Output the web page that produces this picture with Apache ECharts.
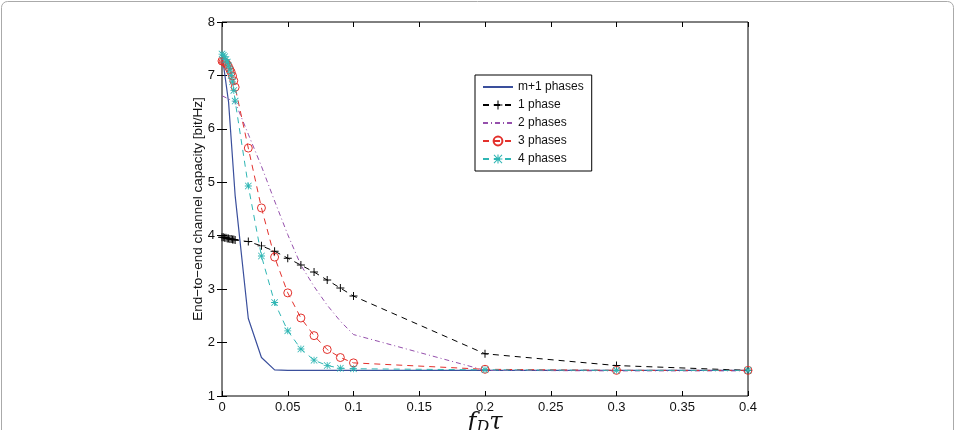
<!DOCTYPE html>
<html>
<head>
<meta charset="utf-8">
<script src="https://cdn.jsdelivr.net/npm/echarts@6/dist/echarts.min.js"></script>
<style>
  html, body { margin: 0; padding: 0; background: #fff; }
  #chart { width: 958px; height: 430px; }
</style>
</head>
<body>
<div id="chart"></div>
<script>
// x values (f_D * tau)
const xFine = [0, 0.001, 0.002, 0.003, 0.004, 0.005, 0.006, 0.007, 0.008, 0.009, 0.01,
  0.02, 0.03, 0.04, 0.05, 0.06, 0.07, 0.08, 0.09, 0.1, 0.2, 0.3, 0.4]
const xMulti = [0, 0.005, 0.01, 0.02, 0.03, 0.04, 0.05, 0.1, 0.2, 0.3, 0.4]
const xTwo = [0, 0.01, 0.02, 0.03, 0.04, 0.05, 0.06, 0.07, 0.08, 0.09, 0.1, 0.2, 0.3, 0.4]

// capacity values [bit/Hz]
const multiPhase = [7.4, 6.5, 4.75, 2.45, 1.72, 1.49, 1.48, 1.48, 1.48, 1.48, 1.48]
const onePhase = [3.97, 3.97, 3.96, 3.96, 3.95, 3.95, 3.94, 3.94, 3.93, 3.93, 3.92,
  3.89, 3.81, 3.71, 3.58, 3.45, 3.32, 3.17, 3.02, 2.87, 1.79, 1.57, 1.48]
const twoPhase = [6.62, 6.5, 5.9, 5.3, 4.65, 4.02, 3.45, 3.05, 2.7, 2.4, 2.15, 1.48, 1.47, 1.47]
const threePhase = [7.27, 7.26, 7.25, 7.23, 7.2, 7.16, 7.11, 7.06, 6.99, 6.9, 6.78,
  5.64, 4.52, 3.6, 2.93, 2.46, 2.13, 1.87, 1.72, 1.62, 1.5, 1.48, 1.48]
const fourPhase = [7.4, 7.38, 7.35, 7.3, 7.25, 7.18, 7.1, 7.0, 6.88, 6.72, 6.52,
  4.93, 3.62, 2.75, 2.22, 1.88, 1.67, 1.57, 1.52, 1.51, 1.49, 1.48, 1.48]

const seriesNames = ['m+1 phases', '1 phase', '2 phases', '3 phases', '4 phases']
const xTicks = { min: 0, max: 0.4, interval: 0.05 }
const yTicks = { min: 1, max: 8, interval: 1 }

function pairs(xs, ys) {
  return ys.map((y, i) => [xs[i], y])
}

const plusPath = 'path://M4.4,0H5.6V10H4.4ZM0,4.4H10V5.6H0Z'
const starPath = 'path://M4.4,0H5.6V10H4.4ZM0,4.4H10V5.6H0ZM0.8,0L10,9.2L9.2,10L0,0.8ZM9.2,0L10,0.8L0.8,10L0,9.2Z'

const chart = echarts.init(document.getElementById('chart'))
const axisFont = { color: '#111', fontSize: 13, fontFamily: 'Liberation Sans, Arial, sans-serif' }

chart.setOption({
  animation: false,
  backgroundColor: '#fff',
  graphic: [{
    type: 'rect',
    shape: { x: 1.5, y: 1.5, width: 952, height: 460, r: 6 },
    style: { fill: 'none', stroke: '#aaa', lineWidth: 1 },
    z: -10
  }],
  grid: {
    left: 222, right: 210, top: 22, bottom: 34,
    outerBoundsMode: 'none',
    containLabel: false,
    show: true, borderColor: '#000', borderWidth: 1
  },
  legend: {
    left: 475, top: 75,
    orient: 'vertical',
    data: [
      { name: seriesNames[0], itemStyle: { opacity: 0 } },
      { name: seriesNames[1] },
      { name: seriesNames[2], itemStyle: { opacity: 0 } },
      { name: seriesNames[3] },
      { name: seriesNames[4] }
    ],
    backgroundColor: '#fff',
    borderColor: '#000',
    borderWidth: 1,
    padding: [6, 8, 6, 7],
    itemWidth: 30,
    itemHeight: 11,
    itemGap: 6,
    textStyle: { color: '#111', fontSize: 12, fontFamily: 'Liberation Sans, Arial, sans-serif' }
  },
  xAxis: [{
    type: 'value',
    min: xTicks.min, max: xTicks.max, interval: xTicks.interval,
    splitLine: { show: false },
    axisLine: { show: false },
    axisTick: { show: true, inside: true, length: 5, lineStyle: { color: '#000' } },
    axisLabel: Object.assign({ margin: 5 }, axisFont),
    name: '{i|f}{s|D}{i|τ}',
    nameLocation: 'middle',
    nameGap: 14,
    nameMoveOverlap: false,
    nameTextStyle: {
      rich: {
        i: { fontFamily: 'DejaVu Serif, serif', fontStyle: 'italic', fontSize: 24, color: '#111' },
        s: { fontFamily: 'DejaVu Serif, serif', fontStyle: 'italic', fontSize: 16, color: '#111', padding: [10, 0, 0, 0] }
      }
    }
  }, {
    type: 'value', position: 'top',
    min: xTicks.min, max: xTicks.max, interval: xTicks.interval,
    splitLine: { show: false }, axisLine: { show: false }, axisLabel: { show: false },
    axisTick: { show: true, inside: true, length: 5, lineStyle: { color: '#000' } }
  }],
  yAxis: [{
    type: 'value',
    min: yTicks.min, max: yTicks.max, interval: yTicks.interval,
    splitLine: { show: false },
    axisLine: { show: false },
    axisTick: { show: true, inside: true, length: 5, lineStyle: { color: '#000' } },
    axisLabel: Object.assign({ margin: 7 }, axisFont),
    name: 'End\u2212to\u2212end channel capacity [bit/Hz]',
    nameLocation: 'middle',
    nameGap: 17,
    nameMoveOverlap: false,
    nameTextStyle: { color: '#111', fontSize: 13.5, fontFamily: 'Liberation Sans, Arial, sans-serif' }
  }, {
    type: 'value', position: 'right',
    min: yTicks.min, max: yTicks.max, interval: yTicks.interval,
    splitLine: { show: false }, axisLine: { show: false }, axisLabel: { show: false },
    axisTick: { show: true, inside: true, length: 5, lineStyle: { color: '#000' } }
  }],
  series: [
    {
      name: seriesNames[0], type: 'line',
      data: pairs(xMulti, multiPhase),
      showSymbol: false, symbol: 'none',
      itemStyle: { color: '#3a4f9c' },
      lineStyle: { color: '#3a4f9c', width: 1.2, type: 'solid' }
    },
    {
      name: seriesNames[1], type: 'line',
      data: pairs(xFine, onePhase),
      symbol: plusPath, symbolSize: 8,
      itemStyle: { color: '#000' },
      lineStyle: { color: '#000', width: 1, type: [6, 5] }
    },
    {
      name: seriesNames[2], type: 'line',
      data: pairs(xTwo, twoPhase),
      showSymbol: false, symbol: 'none',
      itemStyle: { color: '#9550ac' },
      lineStyle: { color: '#9550ac', width: 1, type: [5, 3, 1, 3] }
    },
    {
      name: seriesNames[3], type: 'line',
      data: pairs(xFine, threePhase),
      symbol: 'circle', symbolSize: 8,
      itemStyle: { color: 'rgba(255,255,255,0)', borderColor: '#e3312c', borderWidth: 1 },
      lineStyle: { color: '#e3312c', width: 1, type: [6, 5] }
    },
    {
      name: seriesNames[4], type: 'line',
      data: pairs(xFine, fourPhase),
      symbol: starPath, symbolSize: 7,
      itemStyle: { color: '#2fb6b4' },
      lineStyle: { color: '#2fb6b4', width: 1, type: [6, 5] }
    }
  ]
})
</script>
</body>
</html>
